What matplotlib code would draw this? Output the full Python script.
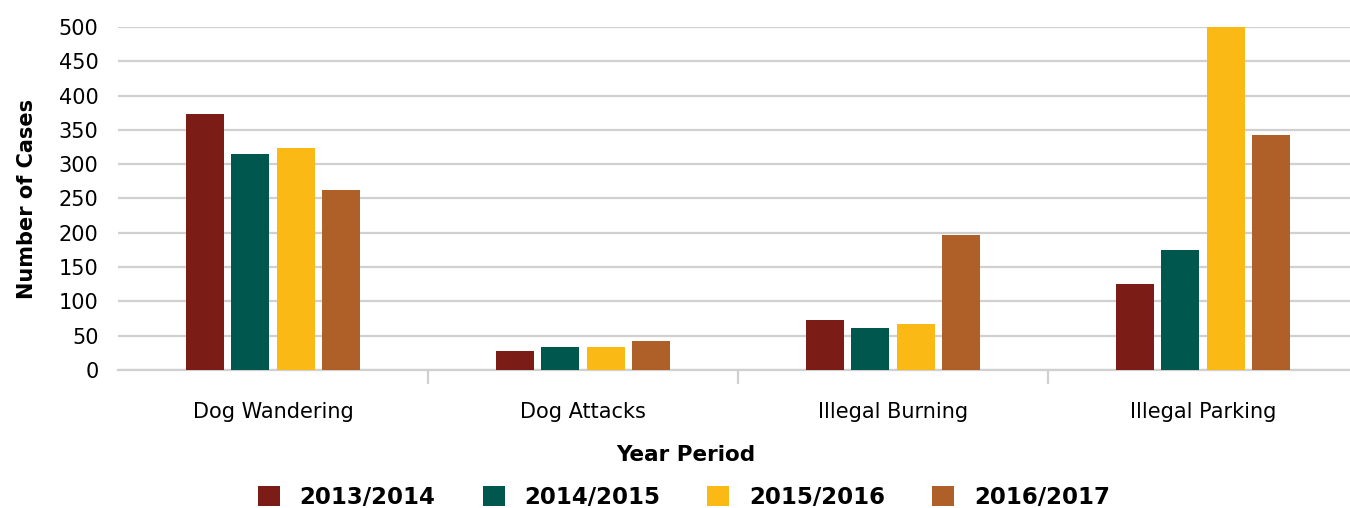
import matplotlib
matplotlib.use("Agg")
import matplotlib.pyplot as plt
import numpy as np

categories = ["Dog Wandering", "Dog Attacks", "Illegal Burning", "Illegal Parking"]
periods = ["2013/2014", "2014/2015", "2015/2016", "2016/2017"]
v2013 = [373, 28, 73, 125]
v2014 = [315, 34, 61, 175]
v2015 = [324, 34, 67, 500]
v2016 = [262, 42, 197, 342]
yticks = [0, 50, 100, 150, 200, 250, 300, 350, 400, 450, 500]

series = [v2013, v2014, v2015, v2016]
colors = ["#7B1C17", "#00574E", "#FBB915", "#AF6028"]

plt.rcParams['font.family'] = ['DejaVu Sans']

fig = plt.figure(figsize=(13.5, 5.08), dpi=100)
ax = fig.add_axes([118/1350, 138/508, (1358-118)/1350, (370-27)/508])

x = np.arange(len(categories))
step = 45.3/310
width = 38/310
for i, (vals, c, lab) in enumerate(zip(series, colors, periods)):
    ax.bar(x + (i-1.5)*step, vals, width=width, color=c, label=lab, zorder=3)

ax.set_xlim(-0.5, len(categories)-0.5)
ax.set_ylim(0, 500)
ax.set_yticks(yticks)
ax.yaxis.grid(True, color="#D0D0D0", linewidth=1.6, zorder=0)
ax.set_axisbelow(True)
for s in ["top", "right", "left"]:
    ax.spines[s].set_visible(False)
ax.spines["bottom"].set_color("#D0D0D0")
ax.spines["bottom"].set_linewidth(1.6)
ax.tick_params(axis="y", length=0, labelsize=15, pad=14, colors="#000000")
ax.set_xticks(x)
ax.set_xticklabels(categories)
ax.tick_params(axis="x", which="major", length=0, labelsize=15, pad=23)
ax.set_xticks(np.arange(0.5, len(categories)-0.5, 1.0), minor=True)
ax.tick_params(axis="x", which="minor", length=10, width=1.6, color="#D0D0D0")

ax.set_ylabel("Number of Cases", fontsize=15, fontweight="bold", labelpad=16)
fig.text(686/1350, 1-455/508, "Year Period", ha="center", va="center",
         fontsize=15.5, fontweight="bold")

handles, labels = ax.get_legend_handles_labels()
fig.legend(handles, labels, loc="center", bbox_to_anchor=(684/1350, 1-497/508),
           ncol=4, frameon=False, prop={"size": 16.5, "weight": "bold"},
           handlelength=0.96, handleheight=0.96, handletextpad=0.87,
           columnspacing=2.05)

fig.savefig("out.png", dpi=100)
